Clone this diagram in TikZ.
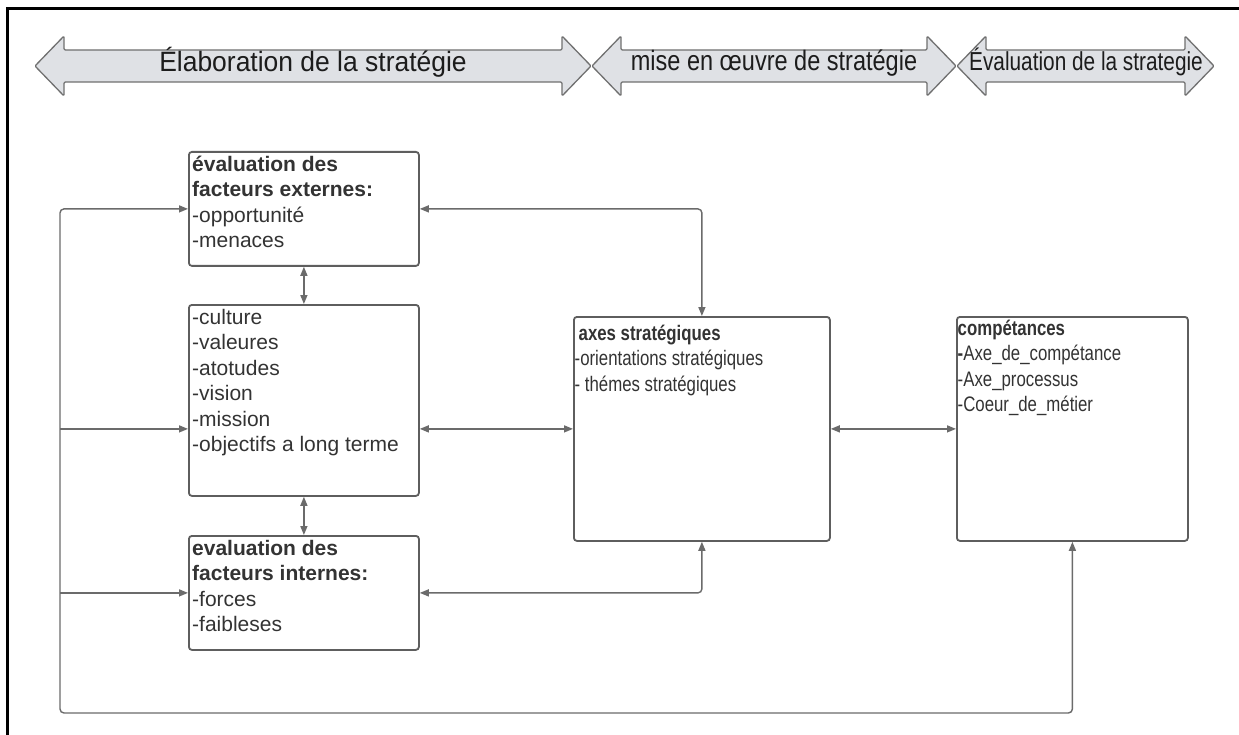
\documentclass[tikz,border=0pt]{standalone}
\usepackage{fontspec}
\setmainfont{Liberation Sans}
\usepackage{graphicx}
\usetikzlibrary{arrows.meta}

\definecolor{linegray}{HTML}{6B6B6B}
\definecolor{boxgray}{HTML}{5E5E5E}
\definecolor{phasefill}{HTML}{DFE1E5}
\definecolor{phaseline}{HTML}{707070}
\definecolor{txt}{HTML}{333333}
\definecolor{phasetxt}{HTML}{1C1C1C}

% condensed multi-line block: lines separated by \\
\newcommand{\narrowblock}[1]{\scalebox{0.8}[1]{\begin{tabular}{@{}l@{}}#1\end{tabular}}}

\begin{document}
\begin{tikzpicture}[x=1pt,y=-1pt,
  box/.style={draw=boxgray,line width=1.8pt,rounded corners=3pt,inner sep=0pt,anchor=north west},
  lefttext/.style={font=\fontsize{21}{25.5}\selectfont,text=txt,align=left,inner sep=0pt,anchor=north west},
  righttext/.style={font=\fontsize{21}{25.5}\selectfont,text=txt,inner sep=0pt,anchor=north west},
  phase/.style={fill=phasefill,draw=phaseline,line width=1.3pt,line join=round,rounded corners=1.2pt},
  phaselabel/.style={font=\fontsize{28}{30}\selectfont,text=phasetxt,inner sep=0pt,anchor=base},
  conn/.style={draw=linegray,line width=1.4pt,rounded corners=4pt,>={Triangle[length=9pt,width=7pt]}}
]
\useasboundingbox (0,0) rectangle (1239,735);
\fill[white] (0,0) rectangle (1239,735);

% outer frame (open on the right and at the bottom)
\draw[line width=3pt,black] (7,735) -- (7,9) -- (1239,9);

% phase arrows
\path[phase] (35,66) -- (64,36) -- (64,50) -- (562,50) -- (562,36) -- (591,66)
  -- (562,96) -- (562,82) -- (64,82) -- (64,96) -- cycle;
\path[phase] (592,66) -- (621,36) -- (621,50) -- (927,50) -- (927,36) -- (956,66)
  -- (927,96) -- (927,82) -- (621,82) -- (621,96) -- cycle;
\path[phase] (957,66) -- (986,36) -- (986,50) -- (1185,50) -- (1185,36) -- (1214,66)
  -- (1185,96) -- (1185,82) -- (986,82) -- (986,96) -- cycle;
\node[phaselabel] (p1) at (313,72) {\scalebox{0.945}[1]{Élaboration de la stratégie}};
\node[phaselabel] (p2) at (774,71) {\scalebox{0.84}[1]{mise en œuvre de stratégie}};
\node[phaselabel,font=\fontsize{26}{28}\selectfont] (p3) at (1086,71) {\scalebox{0.8}[1]{Évaluation de la strategie}};

% boxes
\node[box,minimum width=230,minimum height=114] (ext) at (188,151) {};
\node[box,minimum width=230,minimum height=191] (cult) at (188,304) {};
\node[box,minimum width=230,minimum height=114] (int) at (188,535) {};
\node[box,minimum width=256,minimum height=224] (axes) at (573,316) {};
\node[box,minimum width=231,minimum height=224] (comp) at (956,316) {};

% box contents
\node[lefttext] (extT) at ([xshift=4pt]ext.north west)
  {\rule{0pt}{20pt}\textbf{évaluation des}\\ \textbf{facteurs externes:}\\ -opportunité\\ -menaces};
\node[lefttext] (cultT) at ([xshift=4pt]cult.north west)
  {\rule{0pt}{20pt}-culture\\ -valeures\\ -atotudes\\ -vision\\ -mission\\ -objectifs a long terme};
\node[lefttext] (intT) at ([xshift=4pt]int.north west)
  {\rule{0pt}{20pt}\textbf{evaluation des}\\ \textbf{facteurs internes:}\\ -forces\\ -faibleses};
\node[righttext] (axesT) at ([xshift=1.5pt]axes.north west)
  {\narrowblock{\rule{0pt}{24pt}\hspace{5pt}\textbf{axes stratégiques}\\ -orientations stratégiques\\ - thémes stratégiques}};
\node[righttext] (compT) at ([xshift=1.5pt]comp.north west)
  {\narrowblock{\rule{0pt}{19pt}\textbf{compétances}\\ \textbf{-}Axe\_de\_compétance\\ -Axe\_processus\\ -Coeur\_de\_métier}};

% connectors
\coordinate (bl) at (60,713);
\draw[conn,<->] (ext.west) -| (bl) -| (comp.south);
\draw[conn,->] (bl |- axes.west) -- (cult.west |- axes.west);
\draw[conn,->] (bl |- int.west) -- (int.west);
\draw[conn,<->] (ext.south) -- (cult.north);
\draw[conn,<->] (cult.south) -- (int.north);
\draw[conn,<->] (cult.east |- axes.west) -- (axes.west);
\draw[conn,<->] (axes.east) -- (comp.west);
\draw[conn,<->] (ext.east) -| (axes.north);
\draw[conn,<->] (int.east) -| (axes.south);
\end{tikzpicture}
\end{document}
